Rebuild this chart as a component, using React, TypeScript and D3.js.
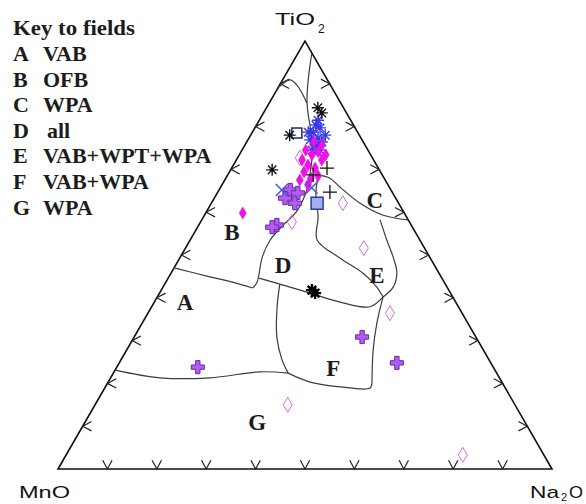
import React from "react";
import * as d3 from "d3";

type T3 = [number, number, number]; // [TiO2, MnO, Na2O] %

// ---- data ----
const blackAsterisk: T3[] = [[84.4,5.2,10.4],[83.2,5.0,11.8],[78.0,14.1,7.9],[69.9,21.7,8.4]];
const blackStar: T3[] = [[41.8,27.7,30.5],[41.1,27.4,31.5]];
const blackPlus: T3[] = [[70.3,10.4,19.3],[68.7,14.0,17.3],[64.7,12.6,22.7]];
const squareOpen: T3[] = [[78.5,12.4,9.1]];
const squareFilled: T3[] = [[62.1,16.5,21.4]];
const blueX: T3[] = [[65.2,22.1,12.7],[65.7,15.8,18.5]];
const blueAsterisk: T3[] = [[80.4,7.6,12.0],[79.7,7.1,13.2],[78.7,9.0,12.3],[77.3,8.7,14.0],[76.4,8.4,15.2],[76.9,10.5,12.6],[75.5,10.0,14.5],[74.5,9.7,15.8],[74.5,11.3,14.2],[81.5,6.6,11.9],[78.0,6.9,15.1],[78.7,10.0,11.3]];
const magentaDiamond: T3[] = [[74.5,12.6,12.9],[73.4,11.9,14.7],[74.1,10.3,15.6],[72.2,10.5,17.3],[71.0,13.9,15.1],[70.3,12.8,16.9],[69.4,15.5,15.1],[68.0,14.8,17.2],[68.5,13.1,18.4],[67.5,17.3,15.2],[66.4,16.2,17.4],[75.7,8.7,15.6],[73.4,9.1,17.5],[76.4,10.0,13.6],[72.2,14.5,13.3],[59.8,32.7,7.5]];
const openDiamond: T3[] = [[57.7,23.8,18.5],[72.7,14.7,12.6],[62.1,11.3,26.6],[51.6,12.3,36.1],[36.4,14.6,49.0],[15.0,46.0,39.0],[3.3,16.4,80.3]];
const purplePlus: T3[] = [[65.2,20.4,14.4],[64.5,19.2,16.3],[63.3,22.4,14.3],[62.1,21.0,16.9],[57.0,27.2,15.8],[56.5,28.4,15.1],[30.8,23.0,46.1],[24.8,19.0,56.2],[23.8,59.8,16.4]];

// field boundaries
const lineAB: T3[] = [[47.0,53.0,0],[44.9,46.8,8.3],[43.5,42.4,14.1],[42.3,39.4,18.3]];
const lineBD: T3[] = [[42.3,39.4,18.3],[43.5,38.0,18.5],[45.3,36.7,18.0],[49.5,33.9,16.6],[53.5,30.3,16.2],[57.0,25.9,17.1],[60.0,21.8,18.2],[64.0,18.0,18.0],[68.7,14.7,16.7],[74.5,11.3,14.2],[80.4,8.8,10.8],[82.7,8.0,9.3],[86.2,6.5,7.3],[90.9,3.9,5.2],[94.2,1.9,3.9],[97.2,0,2.8]];
const lineApexArc: T3[] = [[89.0,11.0,0],[90.9,7.6,1.5],[89.7,6.8,3.5],[87.4,6.7,5.9],[85.5,6.9,7.6]];
const lineDE: T3[] = [[40.2,14.1,45.7],[42.5,14.2,43.3],[45.8,15.4,38.8],[49.3,18.3,32.4],[53.5,20.8,25.7],[58.9,17.9,23.2],[64.0,15.8,20.2],[68.7,13.0,18.3]];
const lineCE: T3[] = [[68.7,13.0,18.3],[68.0,11.0,21.1],[65.9,10.0,24.1],[62.1,7.8,30.1],[59.3,4.5,36.2],[58.2,0,41.8]];
const lineEright: T3[] = [[58.2,5.7,36.1],[53.5,6.7,39.8],[49.5,7.4,43.1],[45.8,8.5,45.7],[42.5,10.9,46.6],[40.2,14.1,45.7]];
const lineDF: T3[] = [[44.6,37.0,18.4],[43.2,33.5,23.3],[41.1,28.4,30.5],[39.0,23.4,37.6],[37.9,17.9,44.2],[40.2,14.1,45.7]];
const lineFleft: T3[] = [[43.2,33.5,23.3],[37.9,36.7,25.4],[30.8,40.3,28.9],[25.5,41.9,32.6],[22.4,42.2,35.4]];
const lineFbottom: T3[] = [[22.4,42.2,35.4],[20.3,38.8,40.9],[19.2,33.3,47.5],[18.9,27.4,53.7],[20.1,26.4,53.5]];
const lineFright: T3[] = [[40.2,14.1,45.7],[34.1,18.4,47.5],[27.8,22.3,49.9],[20.1,26.4,53.5]];
const lineAG: T3[] = [[23.1,76.9,0],[21.3,68.7,10.0],[21.3,58.6,20.1],[22.7,47.8,29.5],[22.4,42.2,35.4]];
const boundaries = [lineAB, lineBD, lineApexArc, lineDE, lineCE, lineEright, lineDF, lineFleft, lineFbottom, lineFright, lineAG];

const fieldLabels: { text: string; pos: T3 }[] = [
  { text: "A", pos: [39.0,54.8,6.2] },
  { text: "B", pos: [55.4,37.1,7.5] },
  { text: "C", pos: [62.9,4.4,32.7] },
  { text: "D", pos: [47.7,30.6,21.7] },
  { text: "E", pos: [45.3,12.8,41.9] },
  { text: "F", pos: [23.6,32.5,43.9] },
  { text: "G", pos: [11.0,54.2,34.8] },
];
const legendTitle = "Key to fields";
const legendKeys = ["A", "B", "C", "D", "E", "F", "G"];
const legendNames = ["VAB", "OFB", "WPA", " all", "VAB+WPT+WPA", "VAB+WPA", "WPA"];
const tickValues = [10, 20, 30, 40, 50, 60, 70, 80, 90];

// ---- layout ----
const W = 586, H = 504;
const xS = d3.scaleLinear().domain([0, 100]).range([58, 552]);
const yS = d3.scaleLinear().domain([0, 100]).range([469, 41]);
function proj(p: T3): [number, number] {
  const s = p[0] + p[1] + p[2];
  const t = (p[0] / s) * 100, n = (p[2] / s) * 100;
  return [xS(n + t / 2), yS(t)];
}
const curve = d3.line<[number, number]>().curve(d3.curveCatmullRom.alpha(0.5));

function Asterisk({ p, color, r = 6, w = 1.3 }: { p: T3; color: string; r?: number; w?: number }) {
  const [x, y] = proj(p);
  const segs = [0, 45, 90, 135].map((a) => {
    const rad = (a * Math.PI) / 180;
    const dx = Math.cos(rad) * r, dy = Math.sin(rad) * r;
    return `M${x - dx},${y - dy}L${x + dx},${y + dy}`;
  });
  return <path d={segs.join("")} stroke={color} strokeWidth={w} fill="none" />;
}

function Chevron({ x, y, dir }: { x: number; y: number; dir: number }) {
  const len = 10, half = (28 * Math.PI) / 180;
  const a1 = dir - half, a2 = dir + half;
  const d = `M${x + Math.cos(a1) * len},${y + Math.sin(a1) * len}L${x},${y}L${x + Math.cos(a2) * len},${y + Math.sin(a2) * len}`;
  return <path d={d} stroke="#222" strokeWidth={1.2} fill="none" />;
}

const serif = "'Liberation Serif', 'Times New Roman', serif";
const sans = "'Liberation Sans', Arial, sans-serif";

export default function App() {
  const corners = { T: proj([100, 0, 0]), L: proj([0, 100, 0]), R: proj([0, 0, 100]) };
  const diamond = (w: number, h: number) => `M0,${-h / 2}L${w / 2},0L0,${h / 2}L${-w / 2},0Z`;
  const cross = d3.symbol().type(d3.symbolCross).size(95)() as string;
  return (
    <div style={{ position: "fixed", left: 0, top: 0 }}>
      <svg width={W} height={H} style={{ display: "block", background: "#fff" }}>
        {/* legend */}
        <g fontFamily={serif} fontWeight="bold" fontSize={22} fill="#1c1c1c">
          <text x={13} y={35} textLength={122} lengthAdjust="spacingAndGlyphs">{legendTitle}</text>
          {legendKeys.map((k, i) => (
            <g key={k}>
              <text x={13} y={61 + i * 25.6}>{k}</text>
              <text x={legendNames[i].startsWith(" ") ? 47 : 43} y={61 + i * 25.6}>{legendNames[i].trim()}</text>
            </g>
          ))}
        </g>
        {/* triangle */}
        <path d={`M${corners.L[0]},${corners.L[1]}L${corners.T[0]},${corners.T[1]}L${corners.R[0]},${corners.R[1]}Z`} fill="none" stroke="#111" strokeWidth={1.6} />
        {tickValues.map((v) => {
          const b = proj([0, 100 - v, v]);
          const l = proj([v, 100 - v, 0]);
          const r = proj([v, 0, 100 - v]);
          return (
            <g key={v}>
              <Chevron x={b[0]} y={b[1]} dir={-Math.PI / 2} />
              <Chevron x={l[0]} y={l[1]} dir={0} />
              <Chevron x={r[0]} y={r[1]} dir={Math.PI} />
            </g>
          );
        })}
        {/* boundaries */}
        {boundaries.map((b, i) => (
          <path key={i} d={curve(b.map(proj)) as string} fill="none" stroke="#3c3c3c" strokeWidth={1.2} />
        ))}
        {/* field labels */}
        <g fontFamily={serif} fontWeight="bold" fontSize={23} fill="#1c1c1c" textAnchor="middle">
          {fieldLabels.map((f) => {
            const [x, y] = proj(f.pos);
            return <text key={f.text} x={x} y={y + 8}>{f.text}</text>;
          })}
        </g>
        {/* corner labels */}
        <g fontFamily={sans} fontSize={17} fill="#111">
          <text x={275} y={25} textLength={40} lengthAdjust="spacingAndGlyphs">TiO</text>
          <text x={318} y={33} fontSize={12}>2</text>
          <text x={19} y={498} textLength={51} lengthAdjust="spacingAndGlyphs">MnO</text>
          <text x={530} y={498} textLength={29} lengthAdjust="spacingAndGlyphs">Na</text>
          <text x={561} y={501} fontSize={11}>2</text>
          <text x={569} y={498} textLength={14} lengthAdjust="spacingAndGlyphs">O</text>
        </g>
        {/* data */}
        {openDiamond.map((p, i) => {
          const [x, y] = proj(p);
          return <path key={i} d={diamond(9, 15)} transform={`translate(${x},${y})`} fill="none" stroke="#d070d8" strokeWidth={1} />;
        })}
        {purplePlus.map((p, i) => {
          const [x, y] = proj(p);
          return <path key={i} d={cross} transform={`translate(${x},${y})`} fill="#b25cf2" stroke="#6a2aa8" strokeWidth={1} />;
        })}
        {blueAsterisk.map((p, i) => <Asterisk key={i} p={p} color="#3636e6" r={6} w={1.4} />)}
        {magentaDiamond.map((p, i) => {
          const [x, y] = proj(p);
          return <path key={i} d={diamond(7, 12)} transform={`translate(${x},${y})`} fill="#f010e8" stroke="#e000e0" strokeWidth={0.5} />;
        })}
        {blueX.map((p, i) => {
          const [x, y] = proj(p);
          const r = 6;
          return <path key={i} d={`M${x - r},${y - r}L${x + r},${y + r}M${x - r},${y + r}L${x + r},${y - r}`} stroke="#4a50e0" strokeWidth={1.5} />;
        })}
        {squareOpen.map((p, i) => {
          const [x, y] = proj(p);
          return <rect key={i} x={x - 5} y={y - 5} width={10} height={10} fill="none" stroke="#1c2a80" strokeWidth={1.5} />;
        })}
        {squareFilled.map((p, i) => {
          const [x, y] = proj(p);
          return <rect key={i} x={x - 6} y={y - 6} width={12} height={12} fill="#9fb0ec" stroke="#2a3e96" strokeWidth={1.5} />;
        })}
        {blackPlus.map((p, i) => {
          const [x, y] = proj(p);
          const r = 7;
          return <path key={i} d={`M${x - r},${y}L${x + r},${y}M${x},${y - r}L${x},${y + r}`} stroke="#111" strokeWidth={1.3} />;
        })}
        {blackAsterisk.map((p, i) => <Asterisk key={i} p={p} color="#111" r={6} w={1.4} />)}
        {blackStar.map((p, i) => <Asterisk key={i} p={p} color="#000" r={6} w={2.4} />)}
      </svg>
    </div>
  );
}
